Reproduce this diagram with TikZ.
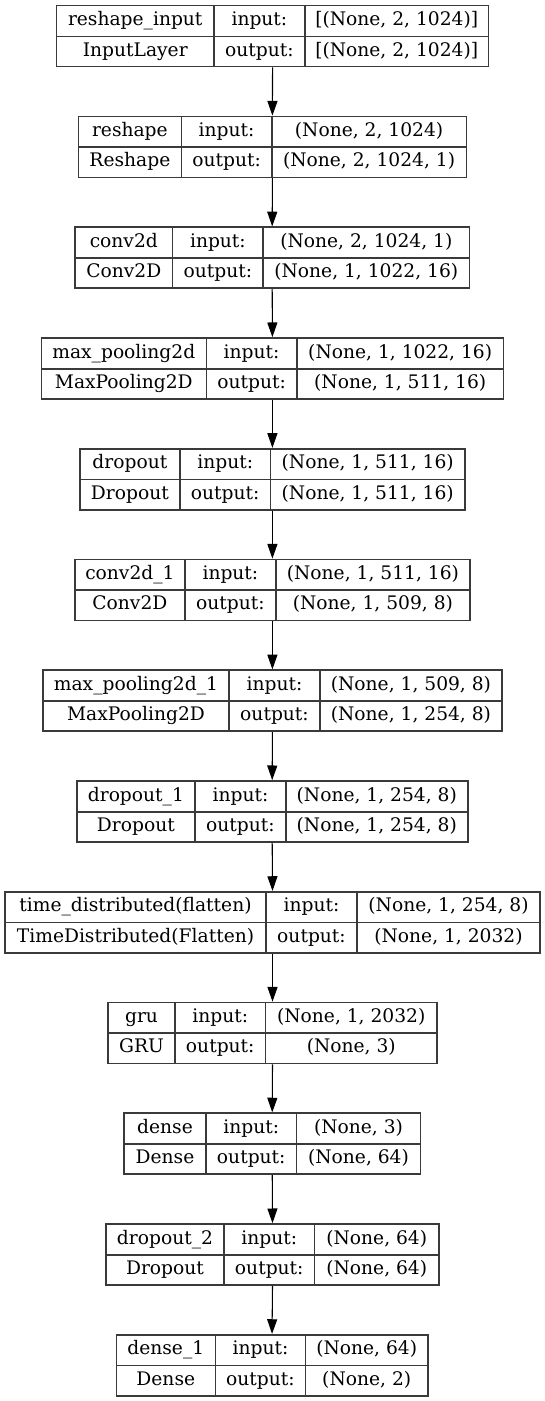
\documentclass[tikz,border=0pt]{standalone}
\usepackage{fontspec}
\setmainfont{DejaVu Serif}
\usetikzlibrary{arrows.meta,fit}

\definecolor{gridc}{HTML}{3A3A3A}

\tikzset{
  frame/.style={draw=gridc, line width=1.2pt, inner sep=0pt},
  rule/.style={draw=gridc, line width=1.2pt},
  cell/.style={inner sep=0pt, font=\fontsize{14}{16}\selectfont,
               text height=10.2pt, text depth=3.4pt},
  flow/.style={draw=black, line width=0.8pt,
               -{Triangle[length=11pt, width=7.5pt]}}
}

% \layer{id}{index}{left}{divider 1}{divider 2}{right}
\newcommand\layer[6]{%
  \pgfmathsetmacro\Ltop{5.7+(#2-1)*110.75}%
  \pgfmathsetmacro\Lmid{\Ltop+30.8}%
  \pgfmathsetmacro\Lbot{\Ltop+61}%
  \def\Lid{#1}\def\Lleft{#3}\def\Ldone{#4}\def\Ldtwo{#5}\def\Lright{#6}%
  \node[frame, fit={(#3,\Ltop) (#6,\Lbot)}] (#1) {};
  \draw[rule] (#3,\Lmid) -- (#6,\Lmid);
  \draw[rule] (#4,\Ltop) -- (#4,\Lbot);
  \draw[rule] (#5,\Ltop) -- (#5,\Lbot);
}

% \cells{layer name}{class}{input shape}{output shape}
\newcommand\cells[4]{%
  \pgfmathsetmacro\Lra{\Ltop+15.6}%
  \pgfmathsetmacro\Lrb{\Ltop+46.0}%
  \node[cell] (\Lid-name)  at ({(\Lleft+\Ldone)/2},\Lra) {#1};
  \node[cell] (\Lid-class) at ({(\Lleft+\Ldone)/2},\Lrb) {#2};
  \node[cell] (\Lid-inl)   at ({(\Ldone+\Ldtwo)/2},\Lra) {input:};
  \node[cell] (\Lid-outl)  at ({(\Ldone+\Ldtwo)/2},\Lrb) {output:};
  \node[cell] (\Lid-in)    at ({(\Ldtwo+\Lright)/2},\Lra) {#3};
  \node[cell] (\Lid-out)   at ({(\Ldtwo+\Lright)/2},\Lrb) {#4};
}

\begin{document}
\begin{tikzpicture}[x=0.75pt, y=-0.75pt]
  \useasboundingbox[fill=white] (0,0) rectangle (545,1401);

  \layer{L1}{1}{56.6}{213.9}{304.9}{488.5}
  \cells{reshape\_input}{InputLayer}{[(None, 2, 1024)]}{[(None, 2, 1024)]}

  \layer{L2}{2}{78.5}{181.3}{271.9}{466.3}
  \cells{reshape}{Reshape}{(None, 2, 1024)}{(None, 2, 1024, 1)}

  \layer{L3}{3}{75.0}{172.6}{263.2}{469.4}
  \cells{conv2d}{Conv2D}{(None, 2, 1024, 1)}{(None, 1, 1022, 16)}

  \layer{L4}{4}{41.3}{206.3}{296.9}{503.5}
  \cells{max\_pooling2d}{MaxPooling2D}{(None, 1, 1022, 16)}{(None, 1, 511, 16)}

  \layer{L5}{5}{79.9}{179.9}{270.5}{464.9}
  \cells{dropout}{Dropout}{(None, 1, 511, 16)}{(None, 1, 511, 16)}

  \layer{L6}{6}{74.7}{185.1}{275.7}{470.1}
  \cells{conv2d\_1}{Conv2D}{(None, 1, 511, 16)}{(None, 1, 509, 8)}

  \layer{L7}{7}{42.7}{229.2}{319.8}{502.1}
  \cells{max\_pooling2d\_1}{MaxPooling2D}{(None, 1, 509, 8)}{(None, 1, 254, 8)}

  \layer{L8}{8}{76.7}{195.1}{285.8}{467.7}
  \cells{dropout\_1}{Dropout}{(None, 1, 254, 8)}{(None, 1, 254, 8)}

  \layer{L9}{9}{5.0}{266.0}{357.0}{540.0}
  \cells{time\_distributed(flatten)}{TimeDistributed(Flatten)}{(None, 1, 254, 8)}{(None, 1, 2032)}

  \layer{L10}{10}{108.0}{175.0}{265.5}{437.0}
  \cells{gru}{GRU}{(None, 1, 2032)}{(None, 3)}

  \layer{L11}{11}{124.0}{206.0}{296.5}{420.5}
  \cells{dense}{Dense}{(None, 3)}{(None, 64)}

  \layer{L12}{12}{106.0}{224.0}{314.5}{439.0}
  \cells{dropout\_2}{Dropout}{(None, 64)}{(None, 64)}

  \layer{L13}{13}{116.3}{215.3}{305.6}{427.8}
  \cells{dense\_1}{Dense}{(None, 64)}{(None, 2)}

  \foreach \a/\b in {L1/L2, L2/L3, L3/L4, L4/L5, L5/L6, L6/L7,
                     L7/L8, L8/L9, L9/L10, L10/L11, L11/L12, L12/L13}
    \draw[flow] (\a.south) -- (\b.north);
\end{tikzpicture}
\end{document}
